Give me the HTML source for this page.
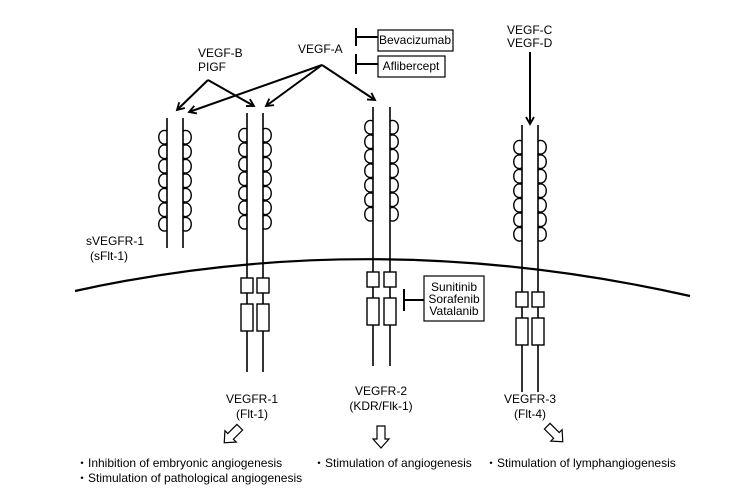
<!DOCTYPE html>
<html><head><meta charset="utf-8"><style>
html,body{margin:0;padding:0;background:#fff}
svg{display:block}
text{font-family:"Liberation Sans",sans-serif;font-size:12px;fill:#000}
</style></head><body>
<svg id="s" width="749" height="496" viewBox="0 0 749 496" xmlns="http://www.w3.org/2000/svg" stroke="#000" fill="none" stroke-width="1.6">
<defs><marker id="ah" markerWidth="10" markerHeight="10" refX="8" refY="5" orient="auto" markerUnits="userSpaceOnUse"><path d="M1,1 L8,5 L1,9" stroke="#000" stroke-width="1.8" fill="none"/></marker></defs>
<path d="M75,291 Q375,225 690,296" stroke-width="2.2"/>
<g id="rec"></g>
<g stroke-width="2" marker-end="url(#ah)">
<line x1="322" y1="65" x2="189" y2="112"/>
<line x1="322" y1="65" x2="266" y2="106"/>
<line x1="322" y1="65" x2="375" y2="100"/>
<line x1="208" y1="80" x2="177" y2="110"/>
<line x1="208" y1="80" x2="254" y2="106"/>
<line x1="530" y1="52" x2="530" y2="124"/>
</g>
<g stroke-width="2">
<line x1="356" y1="28" x2="356" y2="46"/><line x1="356" y1="37" x2="378" y2="37"/>
<line x1="356" y1="54" x2="356" y2="74"/><line x1="356" y1="64" x2="378" y2="64"/>
<line x1="404" y1="289" x2="404" y2="311"/><line x1="404" y1="300" x2="424" y2="300"/>
</g>
<rect x="378" y="30" width="75" height="21" stroke-width="1.2"/>
<rect x="378" y="56" width="67" height="21" stroke-width="1.2"/>
<rect x="424" y="276" width="60" height="45" stroke-width="1.2"/>
<g stroke="none">
<text x="415" y="44" text-anchor="middle" font-size="10">Bevacizumab</text>
<text x="411" y="70" text-anchor="middle" font-size="10">Aflibercept</text>
<text x="454" y="291" text-anchor="middle" font-size="10">Sunitinib</text>
<text x="454" y="303" text-anchor="middle" font-size="10">Sorafenib</text>
<text x="454" y="315" text-anchor="middle" font-size="10">Vatalanib</text>
<text x="298" y="53">VEGF-A</text>
<text x="198" y="57">VEGF-B</text>
<text x="198" y="71">PIGF</text>
<text x="507" y="34">VEGF-C</text>
<text x="507" y="47">VEGF-D</text>
<text x="86" y="245">sVEGFR-1</text>
<text x="90" y="260">(sFlt-1)</text>
<text x="252" y="403" text-anchor="middle">VEGFR-1</text>
<text x="252" y="418" text-anchor="middle">(Flt-1)</text>
<text x="381" y="395" text-anchor="middle">VEGFR-2</text>
<text x="381" y="410" text-anchor="middle">(KDR/Flk-1)</text>
<text x="530" y="403" text-anchor="middle">VEGFR-3</text>
<text x="530" y="418" text-anchor="middle">(Flt-4)</text>
<text x="76" y="467">・Inhibition of embryonic angiogenesis</text>
<text x="76" y="482">・Stimulation of pathological angiogenesis</text>
<text x="313" y="467">・Stimulation of angiogenesis</text>
<text x="485" y="467">・Stimulation of lymphangiogenesis</text>
</g>
<g stroke-width="1.2" fill="#fff">
<path d="M-4,-11 L4,-11 L4,2 L8,2 L0,11 L-8,2 L-4,2 Z" transform="translate(232,435) rotate(45)"/>
<path d="M-4,-11 L4,-11 L4,2 L8,2 L0,11 L-8,2 L-4,2 Z" transform="translate(381,437)"/>
<path d="M-4,-11 L4,-11 L4,2 L8,2 L0,11 L-8,2 L-4,2 Z" transform="translate(555,434) rotate(-45)"/>
</g>
</svg>
<script>
var g=document.getElementById('rec'),ns="http://www.w3.org/2000/svg";
function el(t,a){var e=document.createElementNS(ns,t);for(var k in a)e.setAttribute(k,a[k]);g.appendChild(e);}
function loops(x,y0,n,h,dir){var d="";for(var i=0;i<n;i++){var y=y0+i*h;d+=" M"+x+","+(y+1)+" C"+(x+dir*11)+","+(y-3)+" "+(x+dir*11)+","+(y+h+3)+" "+x+","+(y+h-1);}el('path',{d:d,'stroke-width':1.4});}
function rec(xl,xr,top,bot,ly,n,h,boxes){el('line',{x1:xl,y1:top,x2:xl,y2:bot});el('line',{x1:xr,y1:top,x2:xr,y2:bot});loops(xl,ly,n,h,-1);loops(xr,ly,n,h,1);
if(boxes){[xl,xr].forEach(function(x){el('rect',{x:x-6,y:boxes[0],width:12,height:15,fill:'#fff','stroke-width':1.4});el('rect',{x:x-6,y:boxes[1],width:12,height:27,fill:'#fff','stroke-width':1.4});});}}
rec(167,183,118,248,130,7,14.5,null);
rec(247,263,113,372,128,7,14.5,[278,304]);
rec(373,390,107,366,120,7,14.5,[272,298]);
rec(522,538,125,392,140,7,14.5,[292,318]);
</script>
</body></html>
